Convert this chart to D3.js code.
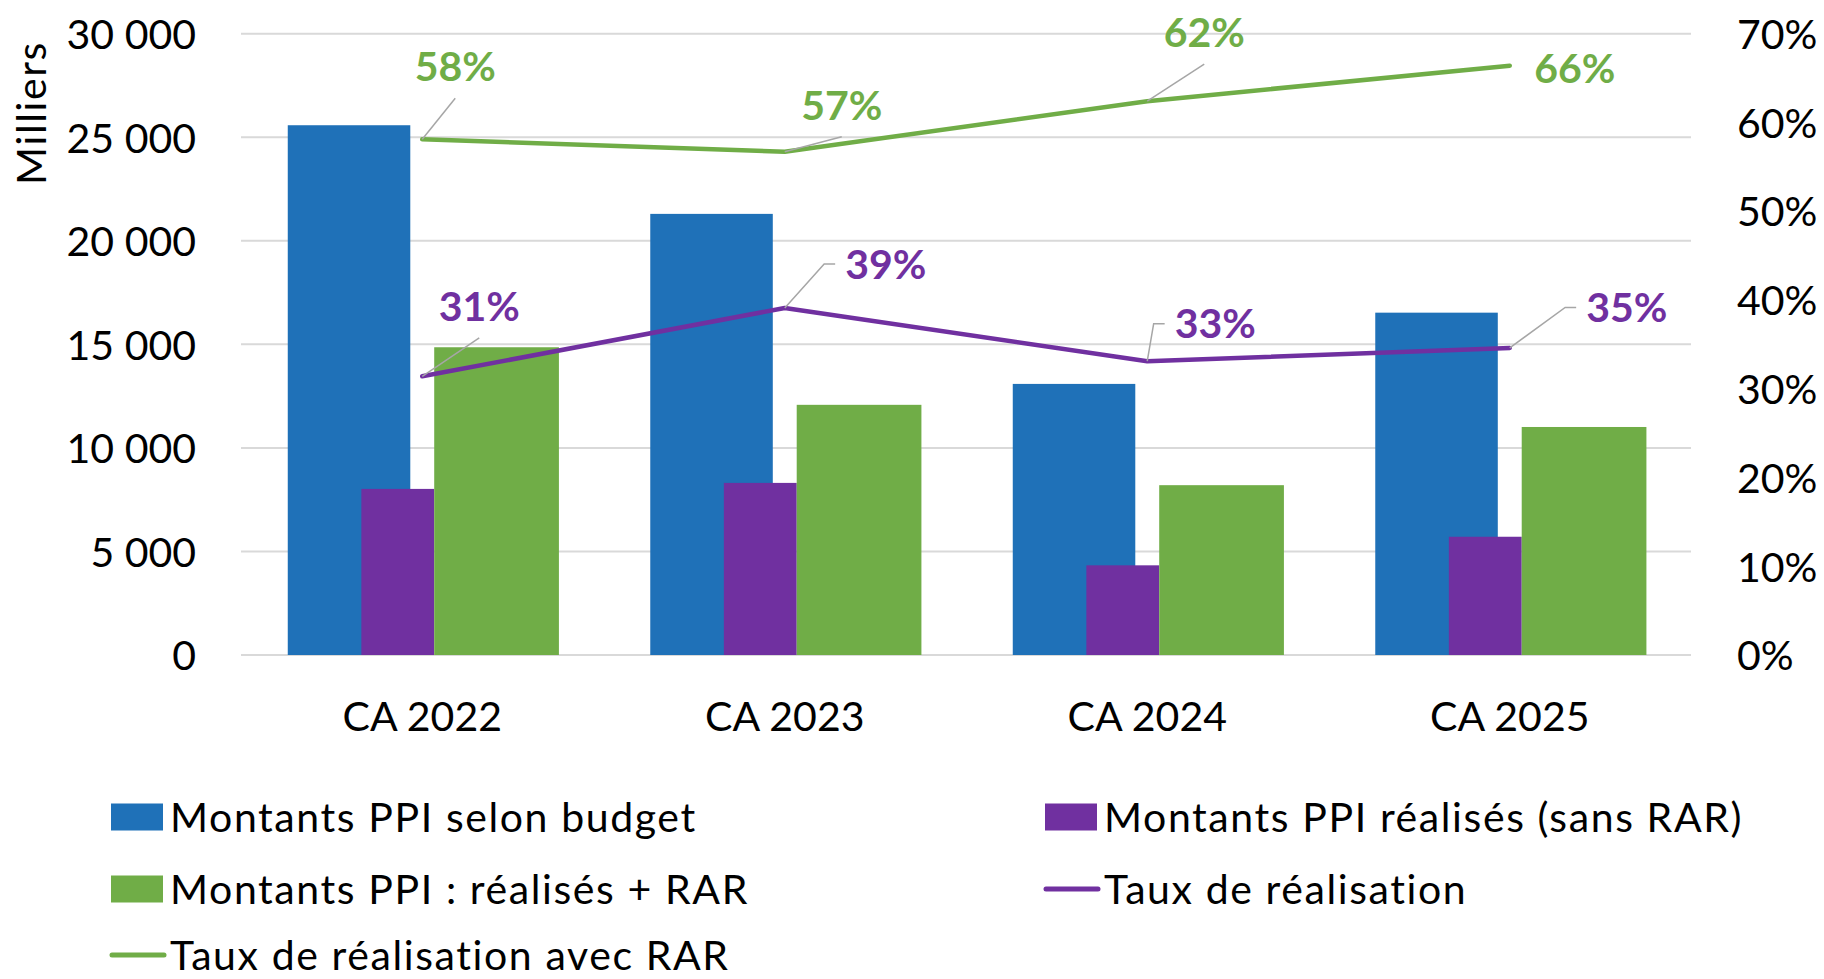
<!DOCTYPE html>
<html>
<head>
<meta charset="utf-8">
<script src="https://cdn.jsdelivr.net/npm/d3@7"></script>
<style>
    html, body { margin: 0; padding: 0; background: #fff; }
    svg { display: block; font-family: Lato, 'Open Sans', sans-serif; }
</style>
</head>
<body>
<svg id="chart" width="1824" height="979"></svg>
<script>
'use strict';

var categories = ['CA 2022', 'CA 2023', 'CA 2024', 'CA 2025'];

// montants en milliers
var budget = [25580, 21300, 13090, 16530];
var realises = [8020, 8310, 4330, 5710];
var realisesRar = [14860, 12080, 8200, 11010];

// taux (axe secondaire)
var taux = [0.314, 0.391, 0.331, 0.346];
var tauxRar = [0.581, 0.567, 0.624, 0.664];

var leftTicks = [0, 5000, 10000, 15000, 20000, 25000, 30000];
var rightTicks = [0, 0.1, 0.2, 0.3, 0.4, 0.5, 0.6, 0.7];

var colors = {
    blue: '#1f71b8',
    purple: '#7030a0',
    green: '#70ad47',
    grid: '#d9d9d9',
    leader: '#a6a6a6'
};

var FONT = 41;
// Lato runs a bit narrower than the original lowercase text
var SPACING = 1.6;

var svg = d3.select('#chart');

var plot = {left: 241, right: 1691, top: 33.7, bottom: 655};

var x = d3.scaleBand()
    .domain(categories)
    .range([plot.left, plot.right]);

var y = d3.scaleLinear()
    .domain([0, 30000])
    .range([plot.bottom, plot.top]);

var y2 = d3.scaleLinear()
    .domain([0, 0.7])
    .range([plot.bottom, plot.top]);

var fr = d3.formatLocale({decimal: ',', thousands: '\u00a0', grouping: [3], currency: ['', ' €']});
var fmtNum = fr.format(',d');
var fmtPct = d3.format('.0%');

// bar spans inside each band, as fraction of the band width
var barSeries = [
    {values: budget, color: colors.blue, from: 0.129, to: 0.467},
    {values: realises, color: colors.purple, from: 0.332, to: 0.533},
    {values: realisesRar, color: colors.green, from: 0.533, to: 0.877}
];

// gridlines
svg.append('g')
    .attr('class', 'grid')
    .selectAll('line')
    .data(leftTicks)
    .join('line')
    .attr('x1', plot.left)
    .attr('x2', plot.right)
    .attr('y1', function(d) { return y(d); })
    .attr('y2', function(d) { return y(d); })
    .attr('stroke', colors.grid)
    .attr('stroke-width', 2);

// left axis
var leftAxis = svg.append('g')
    .attr('transform', 'translate(' + 196 + ',0)')
    .call(d3.axisLeft(y).tickValues(leftTicks).tickFormat(fmtNum).tickSize(0).tickPadding(0));

// right axis
var rightAxis = svg.append('g')
    .attr('transform', 'translate(' + 1737 + ',0)')
    .call(d3.axisRight(y2).tickValues(rightTicks).tickFormat(fmtPct).tickSize(0).tickPadding(0));

[leftAxis, rightAxis].forEach(function(ax) {
    ax.select('.domain').remove();
    ax.selectAll('text')
        .attr('font-size', FONT)
        .attr('fill', '#000')
        .attr('dy', '0.36em');
    ax.attr('font-family', null).attr('font-size', null);
});

// category axis
var xAxis = svg.append('g')
    .attr('transform', 'translate(0,' + plot.bottom + ')')
    .call(d3.axisBottom(x).tickSize(0).tickPadding(0));

xAxis.select('.domain').remove();
xAxis.attr('font-family', null).attr('font-size', null);
xAxis.selectAll('text')
    .attr('font-size', FONT)
    .attr('fill', '#000')
    .attr('y', 76)
    .attr('dy', 0);

svg.append('text')
    .attr('transform', 'translate(46,113) rotate(-90)')
    .attr('text-anchor', 'middle')
    .attr('font-size', FONT)
    .attr('letter-spacing', SPACING)
    .text('Milliers');

// bars
barSeries.forEach(function(s) {
    var bw = x.bandwidth();
    svg.append('g')
        .selectAll('rect')
        .data(s.values)
        .join('rect')
        .attr('x', function(d, i) { return x(categories[i]) + bw * s.from; })
        .attr('width', bw * (s.to - s.from))
        .attr('y', function(d) { return y(d); })
        .attr('height', function(d) { return y(0) - y(d); })
        .attr('fill', s.color);
});

// rate lines
var line = d3.line()
    .x(function(d, i) { return x(categories[i]) + x.bandwidth() / 2; })
    .y(function(d) { return y2(d); });

var lineSeries = [
    {
        values: tauxRar,
        color: colors.green,
        // label offset from the point, and leader style
        labels: [
            {dx: 33, dy: -73, leader: 'below'},
            {dx: 57, dy: -47, leader: 'below'},
            {dx: 57, dy: -69, leader: 'below'},
            {dx: 65, dy: 2.5, leader: 'none'}
        ]
    },
    {
        values: taux,
        color: colors.purple,
        labels: [
            {dx: 57, dy: -70.5, leader: 'below'},
            {dx: 101, dy: -44, leader: 'side'},
            {dx: 68, dy: -37.5, leader: 'side'},
            {dx: 117, dy: -40.5, leader: 'side'}
        ]
    }
];

lineSeries.forEach(function(s) {
    svg.append('path')
        .datum(s.values)
        .attr('d', line)
        .attr('fill', 'none')
        .attr('stroke', s.color)
        .attr('stroke-width', 4.5)
        .attr('stroke-linecap', 'round')
        .attr('stroke-linejoin', 'round');
});

lineSeries.forEach(function(s) {
    var g = svg.append('g');

    s.values.forEach(function(v, i) {
        var px = x(categories[i]) + x.bandwidth() / 2,
            py = y2(v),
            opt = s.labels[i],
            cx = px + opt.dx,
            cy = py + opt.dy;

        var text = g.append('text')
            .attr('x', cx)
            .attr('y', cy)
            .attr('dy', '0.36em')
            .attr('text-anchor', 'middle')
            .attr('font-size', FONT)
            .attr('font-weight', 700)
            .attr('fill', s.color)
            .text(fmtPct(v));

        var half = text.node().getComputedTextLength() / 2,
            pts;

        if(opt.leader === 'below') {
            pts = [[px, py], [cx, cy + 32]];
        } else if(opt.leader === 'side') {
            pts = [[px, py], [cx - half - 21, cy], [cx - half - 10, cy]];
        }

        if(pts) {
            g.insert('path', 'text')
                .attr('d', d3.line()(pts))
                .attr('fill', 'none')
                .attr('stroke', colors.leader)
                .attr('stroke-width', 1.5);
        }
    });
});

// legend
var legendItems = [
    {label: 'Montants PPI selon budget', color: colors.blue, type: 'rect', x: 111, y: 817},
    {label: 'Montants PPI réalisés (sans RAR)', color: colors.purple, type: 'rect', x: 1045, y: 817},
    {label: 'Montants PPI : réalisés + RAR', color: colors.green, type: 'rect', x: 111, y: 889},
    {label: 'Taux de réalisation', color: colors.purple, type: 'line', x: 1045, y: 889},
    {label: 'Taux de réalisation avec RAR', color: colors.green, type: 'line', x: 111, y: 955}
];

var legend = svg.append('g')
    .selectAll('g')
    .data(legendItems)
    .join('g')
    .attr('transform', function(d) { return 'translate(' + d.x + ',' + d.y + ')'; });

legend.filter(function(d) { return d.type === 'rect'; })
    .append('rect')
    .attr('x', 0)
    .attr('y', -13.5)
    .attr('width', 52)
    .attr('height', 27)
    .attr('fill', function(d) { return d.color; });

legend.filter(function(d) { return d.type === 'line'; })
    .append('line')
    .attr('x1', 1)
    .attr('x2', 53)
    .attr('y1', 0)
    .attr('y2', 0)
    .attr('stroke', function(d) { return d.color; })
    .attr('stroke-width', 5)
    .attr('stroke-linecap', 'round');

legend.append('text')
    .attr('x', 59)
    .attr('y', 0)
    .attr('dy', '0.36em')
    .attr('font-size', FONT)
    .attr('letter-spacing', SPACING)
    .attr('fill', '#000')
    .text(function(d) { return d.label; });
</script>
</body>
</html>
